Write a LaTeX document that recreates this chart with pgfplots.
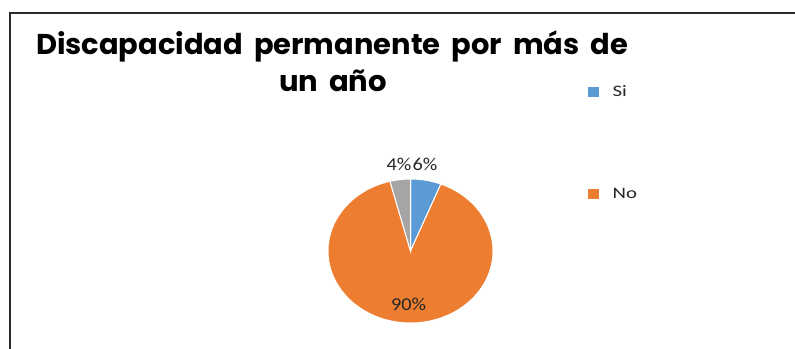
\documentclass[border=0pt]{standalone}
\usepackage{pgfplots}
\pgfplotsset{compat=1.18}
\usepackage{pgfplotstable}
\usepackage{graphicx}
\usepackage{fontspec}
\setmainfont{Carlito}
\newfontfamily\titlefont{Poppins}
\definecolor{pieblue}{HTML}{5B9BD5}
\definecolor{pieorange}{HTML}{ED7D31}
\definecolor{piegray}{HTML}{A5A5A5}
\definecolor{framecol}{HTML}{2B2B2B}
\tikzset{pctlabel/.style={anchor=base, inner sep=0pt, text=black!85, font=\fontsize{13.6pt}{16pt}\selectfont}}

\pgfplotstableread{
label value color lx ly
Si 6 pieblue 0.176 1.115
No 90 pieorange -0.022 -0.833
Otro 4 piegray -0.139 1.115
}\piedata

\begin{document}
\begin{tikzpicture}
\useasboundingbox (0,0) rectangle (596.25pt,-261.75pt);
\draw[framecol, line width=1.5pt] (7.5pt,-262pt) -- (7.5pt,-9.75pt) -- (597pt,-9.75pt);
\node[anchor=base, inner sep=0pt] at (249pt,-41.25pt)
  {\resizebox{444pt}{\height}{\titlefont\bfseries\fontsize{21.5pt}{25pt}\selectfont\spaceskip=0.38em\relax Discapacidad permanente por más de}};
\node[anchor=base, inner sep=0pt] at (249.75pt,-69pt)
  {\resizebox{81pt}{\height}{\titlefont\bfseries\fontsize{21.5pt}{25pt}\selectfont\spaceskip=0.38em\relax un año}};
\begin{axis}[
  at={(307.875pt,-188.25pt)}, anchor=center,
  x=61.875pt, y=54pt,
  xmin=-1, xmax=1, ymin=-1, ymax=1,
  hide axis, clip=false,
  legend image code/.code={\fill[#1] (0pt,-3.75pt) rectangle (8.25pt,3.75pt);},
  legend cell align=left,
  legend style={draw=none, fill=none, at={(1.576,1.651)}, anchor=north west,
    inner sep=0pt, row sep=67pt, column sep=10pt,
    font=\fontsize{12pt}{14pt}\selectfont, text=black!85,
    nodes={inner sep=0pt}},
]
\addlegendimage{fill=pieblue, draw=none}
\addlegendentry{\scalebox{1.3}[1]{Si}}
\addlegendimage{fill=pieorange, draw=none}
\addlegendentry{\scalebox{1.3}[1]{No}}
\pgfplotstablegetrowsof{\piedata}
\pgfmathtruncatemacro{\lastrow}{\pgfplotsretval-1}
\def\cum{0}
\pgfplotsforeachungrouped \i in {0,...,\lastrow}{%
  \pgfplotstablegetelem{\i}{value}\of\piedata \edef\val{\pgfplotsretval}%
  \pgfplotstablegetelem{\i}{color}\of\piedata \edef\col{\pgfplotsretval}%
  \pgfplotstablegetelem{\i}{lx}\of\piedata \edef\lx{\pgfplotsretval}%
  \pgfplotstablegetelem{\i}{ly}\of\piedata \edef\ly{\pgfplotsretval}%
  \pgfmathsetmacro{\aS}{90-3.6*\cum}%
  \pgfmathsetmacro{\aE}{90-3.6*(\cum+\val)}%
  \edef\temp{\noexpand\fill[fill=\col, draw=white, line width=0.75pt] (axis cs:0,0) -- (axis cs:{cos(\aS)},{sin(\aS)}) arc[start angle=\aS, end angle=\aE, x radius=61.875pt, y radius=54pt] -- cycle;
    \noexpand\node[pctlabel] at (axis cs:\lx,\ly) {\noexpand\scalebox{1.12}[1]{\val\noexpand\%}};}%
  \temp
  \pgfmathsetmacro{\cum}{\cum+\val}%
}
\end{axis}
\end{tikzpicture}
\end{document}
